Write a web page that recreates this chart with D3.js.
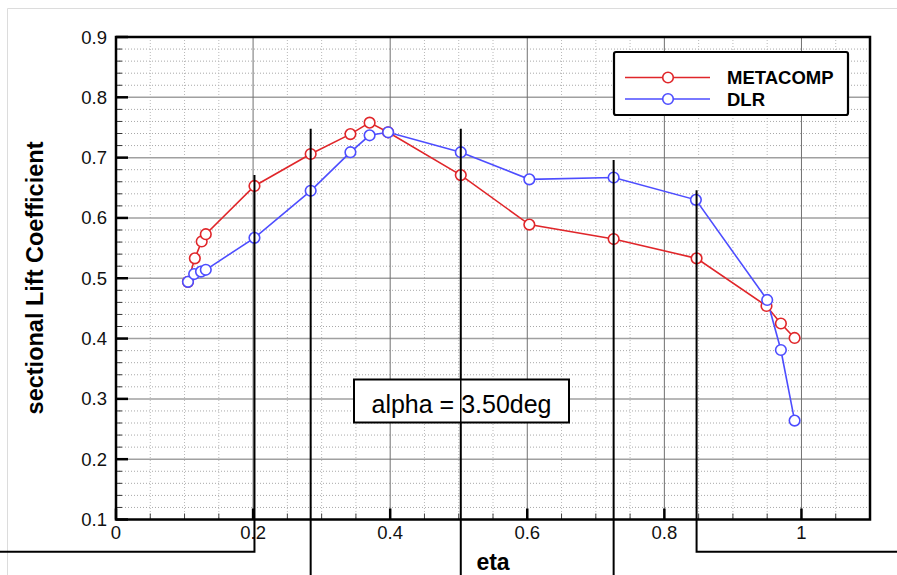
<!DOCTYPE html>
<html><head><meta charset="utf-8">
<script src="https://cdn.jsdelivr.net/npm/d3@7"></script>
<style>
html,body{margin:0;padding:0;background:#fff;}
svg{display:block;font-family:"Liberation Sans",Arial,sans-serif;}
</style></head>
<body><svg id="c" width="897" height="575"></svg>
<script>
// ---- data ----
const etaMetacomp = [0.105,0.115,0.125,0.131,0.202,0.284,0.342,0.370,0.397,0.503,0.603,0.726,0.847,0.949,0.970,0.990];
const clMetacomp  = [0.494,0.533,0.561,0.573,0.653,0.706,0.739,0.758,0.742,0.671,0.589,0.565,0.533,0.454,0.425,0.401];
const etaDLR = [0.105,0.114,0.124,0.131,0.202,0.284,0.342,0.370,0.397,0.503,0.603,0.726,0.846,0.950,0.970,0.990];
const clDLR  = [0.494,0.507,0.511,0.514,0.567,0.645,0.709,0.737,0.742,0.709,0.664,0.667,0.630,0.464,0.381,0.264];
const seriesNames = ["METACOMP","DLR"];
const xTicks = [0,0.2,0.4,0.6,0.8,1];
const xTickLabels = ["0","0.2","0.4","0.6","0.8","1"];
const yTicks = [0.1,0.2,0.3,0.4,0.5,0.6,0.7,0.8,0.9];
const yTickLabels = ["0.1","0.2","0.3","0.4","0.5","0.6","0.7","0.8","0.9"];
// station marker lines (eta, top cl)
const stationEta = [0.202,0.284,0.503,0.726,0.847];
const stationTop = [0.671,0.748,0.748,0.696,0.646];
const annotation = "alpha = 3.50deg";

// ---- layout ----
const svg = d3.select("#c");
const L=116, R=870, T=37, B=519.5;
const x = d3.scaleLinear().domain([0,1.1]).range([L,R]);
const y = d3.scaleLinear().domain([0.1,0.9]).range([B,T]);
const red="#e0262a", blue="#4d4dff";

// page border
svg.append("path").attr("d","M7.5,575 V8.5 H897").attr("fill","none").attr("stroke","#dcdcdc").attr("stroke-width",1);

const g = svg.append("g");
// minor grid
const yMinor = d3.range(0.12,0.9,0.02).filter(v=>Math.abs(v*10-Math.round(v*10))>0.01);
g.selectAll(".ym").data(yMinor).join("line")
  .attr("x1",L).attr("x2",R).attr("y1",d=>y(d)).attr("y2",d=>y(d))
  .attr("stroke","#a8a8a8").attr("stroke-width",1).attr("stroke-dasharray","1,2");
const xMinor = d3.range(0.05,1.1,0.05).filter(v=>Math.abs(v*5-Math.round(v*5))>0.01);
g.selectAll(".xm").data(xMinor).join("line")
  .attr("x1",d=>x(d)).attr("x2",d=>x(d)).attr("y1",T).attr("y2",B)
  .attr("stroke","#b8b8b8").attr("stroke-width",1).attr("stroke-dasharray","1,2");
// major grid
g.selectAll(".yM").data(yTicks.slice(1,-1)).join("line")
  .attr("x1",L).attr("x2",R).attr("y1",d=>y(d)).attr("y2",d=>y(d))
  .attr("stroke","#a0a0a0").attr("stroke-width",1.5);
g.selectAll(".xM").data(xTicks.slice(1)).join("line")
  .attr("x1",d=>x(d)).attr("x2",d=>x(d)).attr("y1",T).attr("y2",B)
  .attr("stroke","#707070").attr("stroke-width",1);

// ticks
g.selectAll(".ytm").data(yMinor).join("line")
  .attr("x1",L).attr("x2",L+6).attr("y1",d=>y(d)).attr("y2",d=>y(d))
  .attr("stroke","#333").attr("stroke-width",1);
g.selectAll(".ytM").data(yTicks).join("line")
  .attr("x1",L).attr("x2",L+12).attr("y1",d=>y(d)).attr("y2",d=>y(d))
  .attr("stroke","#000").attr("stroke-width",2.5);
g.selectAll(".xtm").data(xMinor).join("line")
  .attr("x1",d=>x(d)).attr("x2",d=>x(d)).attr("y1",B).attr("y2",B-6)
  .attr("stroke","#444").attr("stroke-width",1);
g.selectAll(".xtM").data(xTicks).join("line")
  .attr("x1",d=>x(d)).attr("x2",d=>x(d)).attr("y1",B).attr("y2",B-11)
  .attr("stroke","#000").attr("stroke-width",2.5);

// frame
g.append("rect").attr("x",L).attr("y",T).attr("width",R-L).attr("height",B-T)
  .attr("fill","none").attr("stroke","#000").attr("stroke-width",2.5);

// tick labels
g.selectAll(".yl").data(yTicks).join("text")
  .attr("x",L-9).attr("y",d=>y(d)+6.5).attr("text-anchor","end")
  .attr("font-size",18.5).attr("fill","#111").text((d,i)=>yTickLabels[i]);
g.selectAll(".xl").data(xTicks).join("text")
  .attr("x",d=>x(d)).attr("y",B+19).attr("text-anchor","middle")
  .attr("font-size",18.5).attr("fill","#111").text((d,i)=>xTickLabels[i]);

// axis titles
svg.append("text").attr("x",(L+R)/2).attr("y",570).attr("text-anchor","middle")
  .attr("font-size",23).attr("font-weight","bold").text("eta");
svg.append("text").attr("transform","translate(43,278) rotate(-90)").attr("text-anchor","middle")
  .attr("font-size",23.5).attr("font-weight","bold").text("sectional Lift Coefficient");

// series
const line = d3.line().x(d=>x(d[0])).y(d=>y(d[1]));
const series = [
  {name:seriesNames[0], color:red, pts:etaMetacomp.map((e,i)=>[e,clMetacomp[i]])},
  {name:seriesNames[1], color:blue, pts:etaDLR.map((e,i)=>[e,clDLR[i]])}
];
series.forEach(s=>{
  g.append("path").attr("d",line(s.pts)).attr("fill","none").attr("stroke",s.color).attr("stroke-width",1.6);
});
series.forEach(s=>{
  g.selectAll(null).data(s.pts).join("circle")
    .attr("cx",d=>x(d[0])).attr("cy",d=>y(d[1])).attr("r",5.3)
    .attr("fill","#fff").attr("stroke",s.color).attr("stroke-width",1.6);
});

// station lines (black)
const lowY = y(0.0466);
stationEta.forEach((e,i)=>{
  let d;
  if(i===0) d=`M${x(e)},${y(stationTop[i])} V${lowY} H0`;
  else if(i===stationEta.length-1) d=`M${x(e)},${y(stationTop[i])} V${lowY} H897`;
  else d=`M${x(e)},${y(stationTop[i])} V575`;
  svg.append("path").attr("d",d).attr("fill","none").attr("stroke","#000").attr("stroke-width",2);
});

// legend
const lg = svg.append("g");
lg.append("rect").attr("x",614).attr("y",52).attr("width",234).attr("height",63).attr("rx",2)
  .attr("fill","#fff").attr("stroke","#000").attr("stroke-width",2.2);
series.forEach((s,i)=>{
  const yy = 77.5 + i*21.5;
  lg.append("line").attr("x1",625).attr("x2",710).attr("y1",yy).attr("y2",yy).attr("stroke",s.color).attr("stroke-width",1.6);
  lg.append("circle").attr("cx",668).attr("cy",yy).attr("r",5.3).attr("fill","#fff").attr("stroke",s.color).attr("stroke-width",1.6);
  lg.append("text").attr("x",727).attr("y",yy+6.5).attr("font-size",18.5).attr("font-weight","bold").text(s.name);
});

// annotation box
svg.append("rect").attr("x",354).attr("y",379.5).attr("width",215).attr("height",43)
  .attr("fill","#fff").attr("stroke","#000").attr("stroke-width",2);
svg.append("text").attr("x",461.5).attr("y",412.5).attr("text-anchor","middle").attr("font-size",25).text(annotation);
// station line crossing the annotation box
svg.append("line").attr("x1",x(stationEta[2])).attr("x2",x(stationEta[2])).attr("y1",379.5).attr("y2",422.5).attr("stroke","#000").attr("stroke-width",1.5);
</script></body></html>
